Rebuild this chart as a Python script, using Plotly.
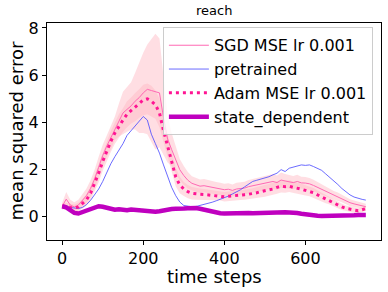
import plotly.graph_objects as go

t = list(range(0, 750, 10)) + [749]

sgd = [0.45, 0.75, 0.5, 0.42, 0.5, 0.7, 0.9, 1.2, 1.6, 2.1,
       2.6, 3.0, 3.35, 3.75, 4.1, 4.4, 4.55, 4.7, 4.9, 5.05,
       5.25, 5.4, 5.35, 5.3, 5.25, 4.2, 3.3, 2.85, 2.4, 2.0,
       1.75, 1.55, 1.42, 1.35, 1.3, 1.32, 1.28, 1.25, 1.22, 1.18,
       1.15, 1.17, 1.12, 1.18, 1.2, 1.22, 1.28, 1.32, 1.36, 1.4,
       1.42, 1.48, 1.5, 1.45, 1.56, 1.52, 1.48, 1.45, 1.5, 1.44,
       1.43, 1.4, 1.33, 1.25, 1.15, 1.08, 1.0, 0.92, 0.85, 0.78,
       0.68, 0.6, 0.55, 0.5, 0.47, 0.43]
sgd_std = [0.15, 0.3, 0.22, 0.2, 0.22, 0.25, 0.3, 0.35, 0.4, 0.45,
           0.45, 0.45, 0.5, 0.5, 0.7, 0.9, 0.95, 1.0, 1.2, 1.5,
           1.7, 1.9, 2.2, 2.45, 2.3, 1.6, 1.0, 0.7, 0.55, 0.45,
           0.4, 0.35, 0.3, 0.3, 0.28, 0.28, 0.27, 0.27, 0.26, 0.26,
           0.25, 0.25, 0.25, 0.26, 0.26, 0.27, 0.28, 0.28, 0.28, 0.3,
           0.3, 0.3, 0.32, 0.3, 0.32, 0.3, 0.3, 0.28, 0.28, 0.26,
           0.26, 0.25, 0.24, 0.22, 0.22, 0.2, 0.2, 0.18, 0.18, 0.16,
           0.15, 0.15, 0.14, 0.13, 0.12, 0.12]

adam = [0.45, 0.45, 0.4, 0.37, 0.42, 0.55, 0.72, 1.0, 1.4, 1.85,
        2.35, 2.8, 3.2, 3.55, 3.85, 4.1, 4.35, 4.5, 4.65, 4.8,
        4.95, 5.0, 4.9, 4.75, 4.4, 3.65, 3.05, 2.35, 1.7, 1.35,
        1.18, 1.07, 1.0, 0.97, 0.96, 0.95, 0.93, 0.92, 0.9, 0.89,
        0.85, 0.87, 0.88, 0.9, 0.92, 0.94, 0.96, 0.98, 1.02, 1.07,
        1.1, 1.14, 1.18, 1.25, 1.3, 1.28, 1.3, 1.25, 1.22, 1.17,
        1.12, 1.08, 1.02, 0.93, 0.84, 0.75, 0.68, 0.6, 0.5, 0.42,
        0.36, 0.32, 0.28, 0.26, 0.3, 0.35]
adam_std = [0.12, 0.15, 0.15, 0.15, 0.18, 0.2, 0.25, 0.3, 0.35, 0.38,
            0.4, 0.42, 0.45, 0.45, 0.5, 0.5, 0.55, 0.55, 0.6, 0.6,
            0.65, 0.65, 0.65, 0.6, 0.6, 0.55, 0.5, 0.45, 0.4, 0.35,
            0.3, 0.28, 0.26, 0.25, 0.24, 0.23, 0.22, 0.22, 0.21, 0.2,
            0.2, 0.2, 0.2, 0.2, 0.21, 0.22, 0.22, 0.23, 0.24, 0.25,
            0.25, 0.25, 0.26, 0.27, 0.27, 0.26, 0.25, 0.25, 0.24, 0.23,
            0.22, 0.21, 0.2, 0.19, 0.18, 0.17, 0.16, 0.15, 0.14, 0.13,
            0.12, 0.12, 0.11, 0.1, 0.1, 0.1]

pretrained = [0.45, 0.42, 0.38, 0.35, 0.35, 0.4, 0.52, 0.7, 0.92, 1.18,
              1.5, 1.88, 2.25, 2.55, 2.8, 3.1, 3.45, 3.65, 3.85, 4.05,
              4.25, 4.1, 3.5, 3.1, 2.7, 2.2, 1.7, 1.25, 0.9, 0.63,
              0.48, 0.44, 0.43, 0.44, 0.48, 0.52, 0.57, 0.62, 0.68, 0.74,
              0.8, 0.88, 0.97, 1.05, 1.15, 1.27, 1.4, 1.5, 1.55, 1.6,
              1.63, 1.7, 1.78, 1.85, 2.0, 1.92, 2.06, 2.1, 2.15, 2.2,
              2.18, 2.2, 2.13, 2.05, 1.97, 1.82, 1.68, 1.52, 1.37, 1.2,
              1.05, 0.93, 0.84, 0.78, 0.74, 0.71]

state_dep = [0.45, 0.4, 0.28, 0.17, 0.14, 0.2, 0.28, 0.35, 0.4, 0.45,
             0.43, 0.37, 0.33, 0.3, 0.32, 0.3, 0.28, 0.31, 0.29, 0.3,
             0.28, 0.26, 0.24, 0.22, 0.24, 0.28, 0.3, 0.33, 0.34, 0.33,
             0.35, 0.36, 0.37, 0.37, 0.34, 0.3, 0.25, 0.2, 0.17, 0.15,
             0.14, 0.15, 0.15, 0.14, 0.15, 0.15, 0.16, 0.15, 0.16, 0.16,
             0.17, 0.18, 0.19, 0.2, 0.2, 0.19, 0.18, 0.18, 0.16, 0.13,
             0.1, 0.08, 0.06, 0.05, 0.04, 0.04, 0.03, 0.03, 0.04, 0.05,
             0.06, 0.07, 0.07, 0.08, 0.08, 0.08]
state_std = [0.06, 0.06, 0.07, 0.07, 0.07, 0.08, 0.08, 0.08, 0.08, 0.08,
             0.08, 0.08, 0.08, 0.08, 0.08, 0.08, 0.08, 0.08, 0.08, 0.08,
             0.08, 0.08, 0.08, 0.08, 0.08, 0.08, 0.08, 0.08, 0.08, 0.08,
             0.08, 0.08, 0.08, 0.08, 0.08, 0.07, 0.07, 0.07, 0.07, 0.07,
             0.06, 0.06, 0.06, 0.06, 0.06, 0.06, 0.06, 0.06, 0.06, 0.06,
             0.06, 0.06, 0.06, 0.06, 0.06, 0.06, 0.06, 0.06, 0.06, 0.06,
             0.05, 0.05, 0.05, 0.05, 0.05, 0.05, 0.05, 0.05, 0.05, 0.05,
             0.05, 0.05, 0.05, 0.05, 0.05, 0.05]

x_ticks = [0, 200, 400, 600]
y_ticks = [0, 2, 4, 6, 8]

fig = go.Figure()


def band(mean, std, color):
    up = [m + s for m, s in zip(mean, std)]
    lo = [m - s for m, s in zip(mean, std)]
    fig.add_trace(go.Scatter(x=t + t[::-1], y=up + lo[::-1], mode="lines",
                             line=dict(width=0), fill="toself", fillcolor=color,
                             showlegend=False, hoverinfo="skip"))


band(sgd, sgd_std, "rgba(255,182,193,0.45)")
band(adam, adam_std, "rgba(255,182,193,0.45)")
band(state_dep, state_std, "rgba(191,0,191,0.12)")

fig.add_trace(go.Scatter(x=t, y=sgd, mode="lines", name="SGD MSE lr 0.001",
                         line=dict(color="#ff69b4", width=1)))
fig.add_trace(go.Scatter(x=t, y=pretrained, mode="lines", name="pretrained",
                         line=dict(color="rgba(70,70,255,0.8)", width=1)))
fig.add_trace(go.Scatter(x=t, y=adam, mode="lines", name="Adam MSE lr 0.001",
                         line=dict(color="#ff1493", width=3, dash="3px,4px")))
fig.add_trace(go.Scatter(x=t, y=state_dep, mode="lines", name="state_dependent",
                         line=dict(color="#bf00bf", width=4.5)))

fig.update_layout(
    width=388, height=292,
    margin=dict(l=47, r=7, t=23, b=52, autoexpand=False),
    paper_bgcolor="white", plot_bgcolor="white",
    font=dict(family="DejaVu Sans", size=16, color="black"),
    showlegend=True,
    legend=dict(x=0.347, y=0.98, xanchor="left", yanchor="top", traceorder="normal",
                bgcolor="rgba(255,255,255,0.8)", bordercolor="#cccccc", borderwidth=1,
                font=dict(size=16), tracegroupgap=0, itemwidth=40),
    annotations=[
        dict(text="reach", xref="paper", yref="paper", x=0.5, y=1, xanchor="center",
             yanchor="bottom", yshift=3, showarrow=False, font=dict(size=13)),
        dict(text="time steps", xref="paper", yref="paper", x=0.5, y=0, xanchor="center",
             yanchor="middle", yshift=-36, showarrow=False, font=dict(size=18)),
        dict(text="mean squared error", xref="paper", yref="paper", x=0, y=0.5,
             xanchor="center", yanchor="middle", xshift=-31, textangle=-90,
             showarrow=False, font=dict(size=18)),
    ],
)
fig.update_xaxes(range=[-37.45, 786.45], tickvals=x_ticks, showgrid=False, zeroline=False,
                 showline=True, linecolor="black", linewidth=1, mirror=True, automargin=False,
                 ticks="outside", ticklen=4, tickcolor="black")
fig.update_yaxes(range=[-0.98, 8.21], tickvals=y_ticks, showgrid=False, zeroline=False,
                 showline=True, linecolor="black", linewidth=1, mirror=True, automargin=False,
                 ticks="outside", ticklen=4, tickcolor="black")

fig.write_html("out.html", config={"displayModeBar": False},
               post_script="document.body.style.margin='0';")
